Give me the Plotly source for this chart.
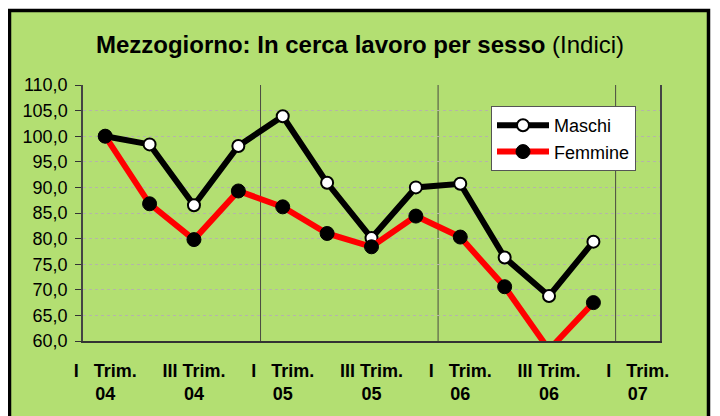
import plotly.graph_objects as go

categories = ["I Trim. 04", "II Trim. 04", "III Trim. 04", "IV Trim. 04",
              "I Trim. 05", "II Trim. 05", "III Trim. 05", "IV Trim. 05",
              "I Trim. 06", "II Trim. 06", "III Trim. 06", "IV Trim. 06",
              "I Trim. 07"]
maschi = [100.0, 98.4, 86.5, 98.1, 103.9, 90.9, 80.1, 90.0, 90.7, 76.3, 68.8, 79.4]
femmine = [100.0, 86.8, 79.8, 89.3, 86.2, 81.0, 78.4, 84.4, 80.3, 70.6, 58.3, 67.5]
tick_cats = categories[::2]
tick_labels = ["I\u00a0\u00a0\u00a0Trim.<br>04", "III Trim.<br>04",
               "I\u00a0\u00a0\u00a0Trim.<br>05", "III Trim.<br>05",
               "I\u00a0\u00a0\u00a0Trim.<br>06", "III Trim.<br>06",
               "I\u00a0\u00a0\u00a0Trim.<br>07"]
year_starts = [c for c in categories if c.startswith("I Trim.")][1:]

FONT = "Liberation Sans, Arial, sans-serif"
GREEN = "#b3df72"
PLOTBG = "#e6f4be"

fig = go.Figure()
fig.add_trace(go.Scatter(
    x=categories[:len(maschi)], y=maschi, name="Maschi", mode="lines+markers",
    line=dict(color="black", width=6),
    marker=dict(size=12, color="white", line=dict(color="black", width=2)),
))
fig.add_trace(go.Scatter(
    x=categories[:len(femmine)], y=femmine, name="Femmine", mode="lines+markers",
    line=dict(color="#ff0000", width=6),
    marker=dict(size=14, color="black", line=dict(color="black", width=1)),
))

# page is offset by the 8px body margin
OFF = 8
W, H = 720, 416
L, R, T, B = 75, 68, 77, 83
pw, ph = W - L - R, H - T - B

def px_x(p):
    return (p - OFF - L) / pw

def px_y(p):
    return (H - B - (p - OFF)) / ph

shapes = [dict(type="rect", xref="paper", yref="paper",
               x0=px_x(9.5), x1=px_x(708.5), y0=px_y(450), y1=px_y(10.5),
               fillcolor=GREEN, line=dict(color="black", width=3.5), layer="below")]
for c in year_starts:
    idx = categories.index(c)
    shapes.append(dict(type="line", xref="x", yref="paper",
                       x0=idx - 0.5, x1=idx - 0.5, y0=0, y1=1,
                       line=dict(color="#4a4a40", width=1), layer="below"))

fig.update_layout(
    width=W, height=H,
    margin=dict(l=L, r=R, t=T, b=B),
    paper_bgcolor="white", plot_bgcolor=PLOTBG,
    separators=",.",
    font=dict(family=FONT, color="black"),
    title=dict(text="<b>Mezzogiorno: In cerca lavoro per sesso</b> (Indici)",
               x=(360 - OFF) / W, xref="container", xanchor="center",
               y=1 - (45 - OFF) / H, yanchor="middle",
               font=dict(size=24, family=FONT, color="black")),
    showlegend=True,
    legend=dict(x=px_x(491), y=px_y(106), xanchor="left", yanchor="top",
                bgcolor="white", bordercolor="#555555", borderwidth=1,
                font=dict(size=18, family=FONT, color="black"),
                itemwidth=52, tracegroupgap=0),
    shapes=shapes,
)
fig.update_xaxes(
    type="category", categoryorder="array", categoryarray=categories,
    range=[-0.5, len(categories) - 0.5],
    tickmode="array", tickvals=tick_cats, ticktext=tick_labels,
    tickfont=dict(size=18, family=FONT, color="black", weight="bold"),
    ticks="", showgrid=False, showline=True, linecolor="#333333", linewidth=2,
    ticklabelstandoff=12, zeroline=False,
)
fig.update_yaxes(
    range=[60, 110], dtick=5, tick0=60, tickformat=".1f",
    tickfont=dict(size=18, family=FONT, color="black"),
    ticks="outside", ticklen=6, tickcolor="#333333", tickwidth=1,
    showgrid=True, gridcolor="#b5b5a8", griddash="dot", gridwidth=1,
    showline=True, mirror=True, linecolor="#444444", linewidth=1.5,
    zeroline=False, ticklabelstandoff=4,
)

fig.write_html("out.html")
